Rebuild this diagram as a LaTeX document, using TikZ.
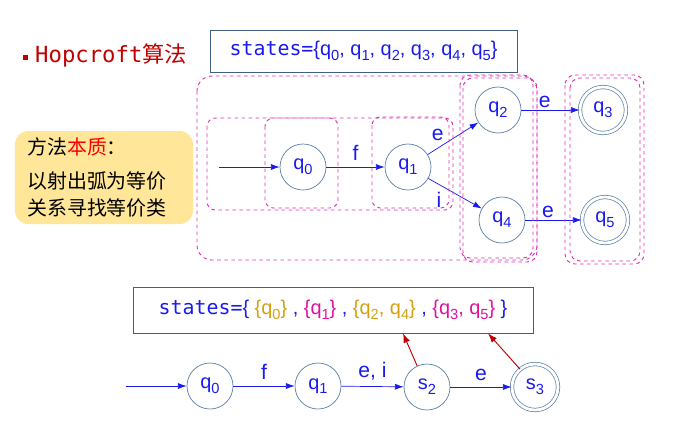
\documentclass[tikz,border=0pt]{standalone}
\usepackage{fontspec}
\setmainfont{Liberation Sans}
\setmonofont{DejaVu Sans Mono}
\newfontfamily\cjkfont{Noto Sans CJK SC}
\usetikzlibrary{arrows.meta,positioning}
\definecolor{stateblue}{HTML}{1A1AF0}
\definecolor{ringblue}{HTML}{5B7FA3}
\definecolor{frameblue}{HTML}{3F5F85}
\definecolor{groupmag}{HTML}{E030B0}
\definecolor{goldq}{HTML}{D4A010}
\definecolor{pinkq}{HTML}{E010A0}
\definecolor{notefill}{HTML}{FFE699}
\definecolor{hopred}{HTML}{C00000}
\newcommand{\qsub}[2]{#1\raisebox{-0.45ex}{\fontsize{12.5}{13}\selectfont #2}}
\begin{document}
\begin{tikzpicture}[%
    x=0.03cm, y=-0.03cm,            % pixel grid, y going down
    >={Latex[length=2.6mm,width=1.8mm]},
    font=\fontsize{17}{20}\selectfont,
    ]

\tikzset{
    state/.style={circle, draw=ringblue, semithick, minimum size=1.38cm, inner sep=0pt, text=stateblue, font=\fontsize{17}{20}\selectfont},
    accept/.style={state, double=white, double distance=2.4pt},
    flow/.style={->, semithick, stateblue},
    lab/.style={text=stateblue, inner sep=2pt, font=\fontsize{18}{20}\selectfont},
    group/.style={draw=groupmag, dashed, thick, rounded corners=2.5mm},
    setbox/.style={draw=frameblue, semithick, text=stateblue, inner sep=0pt},
    note/.style={fill=notefill, rounded corners=4mm, align=left, inner sep=0pt, font=\cjkfont\fontsize{17}{23}\selectfont},
    split/.style={->, thick, hopred, >={Latex[length=2.8mm,width=2mm]}},
}
\useasboundingbox (0,0) rectangle (675,434);

%% Title line
\fill[hopred] (22.5,54.5) rectangle (27.5,59.5);
\node[anchor=west, text=hopred, inner sep=0pt, font=\fontsize{19}{22}\selectfont] (title) at (35,55)
    {{\ttfamily Hopcroft}{\cjkfont 算法}};
\node[setbox, minimum width=9.21cm, minimum height=1.26cm] (allstates) at (363.5,51)
    {{\ttfamily states=}\{\qsub{q}{0}, \qsub{q}{1}, \qsub{q}{2}, \qsub{q}{3}, \qsub{q}{4}, \qsub{q}{5}\}};

%% Note
\node[note, minimum width=5.34cm, minimum height=2.79cm, text width=4.6cm] (essence) at (104,177.5)
    {方法{\color{red}本质}：\\[6pt]以射出弧为等价\\关系寻找等价类};

%% Original DFA
\node[state] (q0) at (303,167) {\qsub{q}{0}};
\node[state] (q1) at (408,167) {\qsub{q}{1}};
\node[state] (q2) at (498,110) {\qsub{q}{2}};
\node[state] (q4) at (502,220) {\qsub{q}{4}};
\node[accept] (q3) at (603,110) {\qsub{q}{3}};
\node[accept] (q5) at (605,220) {\qsub{q}{5}};
\coordinate (in0) at (219,167);

\draw[flow] (in0) -- (q0);
\draw[flow] (q0) -- node[lab, above=3pt] {f} (q1);
\draw[flow] (q1) -- node[lab, pos=0.2, above=4pt] {e} (q2);
\draw[flow] (q1) -- node[lab, pos=0.2, below=4pt] {i} (q4);
\draw[flow] (q2) -- node[lab, pos=0.4, above] {e} (q3);
\draw[flow] (q4) -- node[lab, pos=0.4, above] {e} (q5);

%% Partition groups
\draw[group, rounded corners=4.5mm] (197,76) rectangle (537,260);
\draw[group] (207,118) rectangle (453,210);
\draw[group] (265,118) rectangle (338,208);
\draw[group] (372,117) rectangle (449,208);
\draw[group, rounded corners=3mm] (460,75) rectangle (533,258);
\draw[group, rounded corners=3mm] (463,78) rectangle (537,262);
\draw[group, rounded corners=3mm] (565,75) rectangle (644,264);
\draw[group, rounded corners=3mm] (570,78) rectangle (640,261);

%% Minimal DFA
\node[setbox, minimum width=12cm, minimum height=1.38cm] (parts) at (333,310)
    {{\ttfamily states=}\{ {\color{goldq}\{\qsub{q}{0}\}} , {\color{pinkq}\{\qsub{q}{1}\}} , {\color{goldq}\{\qsub{q}{2}, \qsub{q}{4}\}} , {\color{pinkq}\{\qsub{q}{3}, \qsub{q}{5}\}} \}};

\node[state] (p0) at (210,386) {\qsub{q}{0}};
\node[state] (p1) at (318,386) {\qsub{q}{1}};
\node[state] (s2) at (427,387) {\qsub{s}{2}};
\node[accept] (s3) at (535,387) {\qsub{s}{3}};
\coordinate (in1) at (126,386);

\draw[flow] (in1) -- (p0);
\draw[flow] (p0) -- node[lab, above=3pt] {f} (p1);
\draw[flow] (p1) -- node[lab, above=3pt] {e, i} (s2);
\draw[flow] (s2) -- node[lab, above=3pt] {e} (s3);

\draw[split] (s2.115) -- ([xshift=2.1cm]parts.south);
\draw[split] (s3.130) -- ([xshift=4.65cm]parts.south);
\end{tikzpicture}
\end{document}
